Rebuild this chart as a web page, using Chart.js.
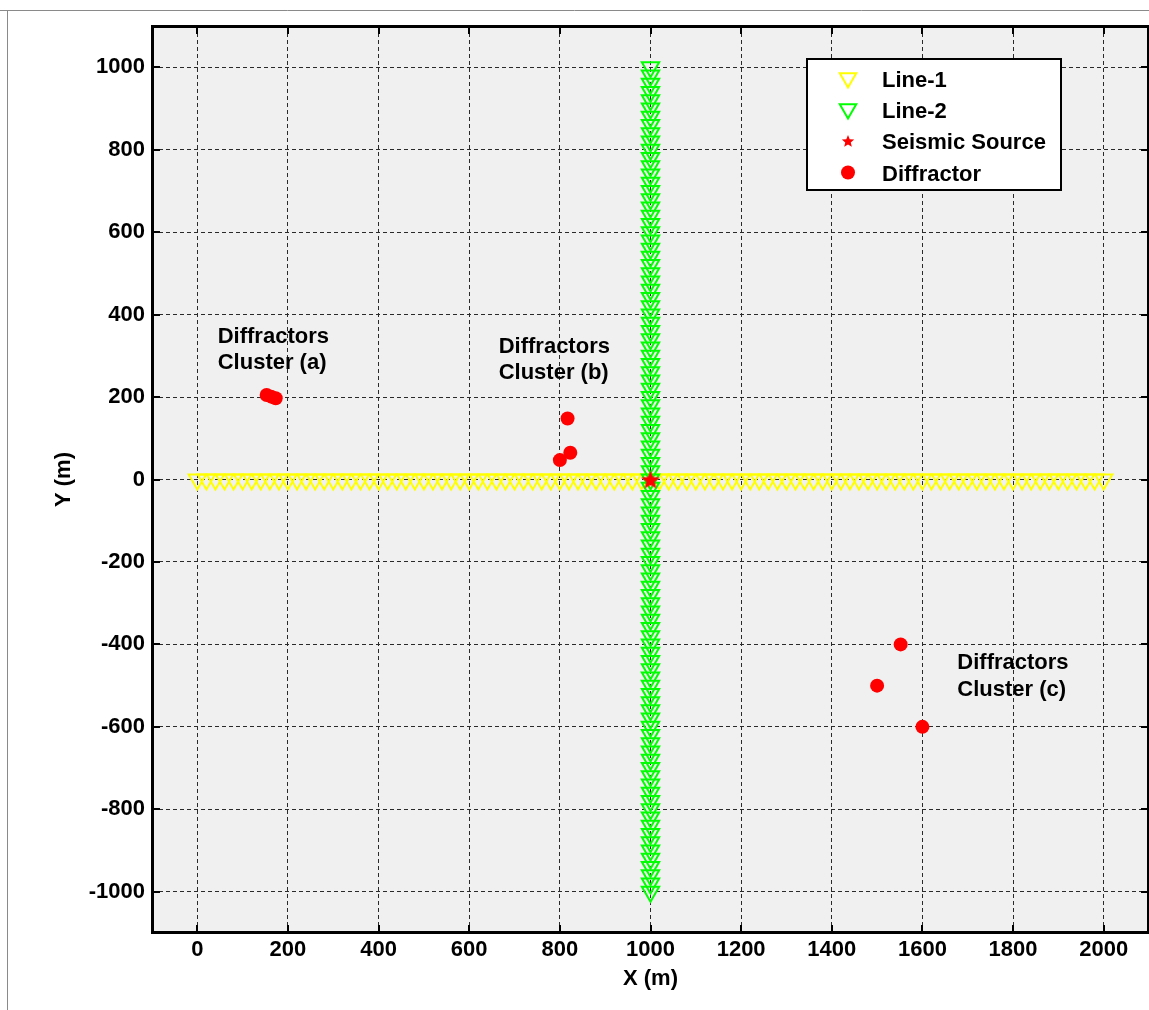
<!DOCTYPE html>
<html>
<head>
<meta charset="utf-8">
<title>Survey geometry</title>
<script src="https://cdn.jsdelivr.net/npm/chart.js@4.4.1/dist/chart.umd.min.js"></script>
<style>
  html, body { margin: 0; padding: 0; background: #fff; }
  canvas { display: block; }
</style>
</head>
<body>
<canvas id="survey" width="1149" height="1010"></canvas>
<script>
"use strict";

// Axis ticks
var xTicks = [0, 200, 400, 600, 800, 1000, 1200, 1400, 1600, 1800, 2000];
var yTicks = [-1000, -800, -600, -400, -200, 0, 200, 400, 600, 800, 1000];

var seriesNames = ['Line-1', 'Line-2', 'Seismic Source', 'Diffractor'];

// Receiver line 1 (along X)
var line1X = [
    0, 20, 40, 60, 80, 100, 120, 140, 160, 180,
    200, 220, 240, 260, 280, 300, 320, 340, 360, 380,
    400, 420, 440, 460, 480, 500, 520, 540, 560, 580,
    600, 620, 640, 660, 680, 700, 720, 740, 760, 780,
    800, 820, 840, 860, 880, 900, 920, 940, 960, 980,
    1000, 1020, 1040, 1060, 1080, 1100, 1120, 1140, 1160, 1180,
    1200, 1220, 1240, 1260, 1280, 1300, 1320, 1340, 1360, 1380,
    1400, 1420, 1440, 1460, 1480, 1500, 1520, 1540, 1560, 1580,
    1600, 1620, 1640, 1660, 1680, 1700, 1720, 1740, 1760, 1780,
    1800, 1820, 1840, 1860, 1880, 1900, 1920, 1940, 1960, 1980,
    2000
];
var line1Y = [
    0, 0, 0, 0, 0, 0, 0, 0, 0, 0,
    0, 0, 0, 0, 0, 0, 0, 0, 0, 0,
    0, 0, 0, 0, 0, 0, 0, 0, 0, 0,
    0, 0, 0, 0, 0, 0, 0, 0, 0, 0,
    0, 0, 0, 0, 0, 0, 0, 0, 0, 0,
    0, 0, 0, 0, 0, 0, 0, 0, 0, 0,
    0, 0, 0, 0, 0, 0, 0, 0, 0, 0,
    0, 0, 0, 0, 0, 0, 0, 0, 0, 0,
    0, 0, 0, 0, 0, 0, 0, 0, 0, 0,
    0, 0, 0, 0, 0, 0, 0, 0, 0, 0,
    0
];

// Receiver line 2 (along Y)
var line2X = [
    1000, 1000, 1000, 1000, 1000, 1000, 1000, 1000, 1000, 1000,
    1000, 1000, 1000, 1000, 1000, 1000, 1000, 1000, 1000, 1000,
    1000, 1000, 1000, 1000, 1000, 1000, 1000, 1000, 1000, 1000,
    1000, 1000, 1000, 1000, 1000, 1000, 1000, 1000, 1000, 1000,
    1000, 1000, 1000, 1000, 1000, 1000, 1000, 1000, 1000, 1000,
    1000, 1000, 1000, 1000, 1000, 1000, 1000, 1000, 1000, 1000,
    1000, 1000, 1000, 1000, 1000, 1000, 1000, 1000, 1000, 1000,
    1000, 1000, 1000, 1000, 1000, 1000, 1000, 1000, 1000, 1000,
    1000, 1000, 1000, 1000, 1000, 1000, 1000, 1000, 1000, 1000,
    1000, 1000, 1000, 1000, 1000, 1000, 1000, 1000, 1000, 1000,
    1000
];
var line2Y = [
    -1000, -980, -960, -940, -920, -900, -880, -860, -840, -820,
    -800, -780, -760, -740, -720, -700, -680, -660, -640, -620,
    -600, -580, -560, -540, -520, -500, -480, -460, -440, -420,
    -400, -380, -360, -340, -320, -300, -280, -260, -240, -220,
    -200, -180, -160, -140, -120, -100, -80, -60, -40, -20,
    0, 20, 40, 60, 80, 100, 120, 140, 160, 180,
    200, 220, 240, 260, 280, 300, 320, 340, 360, 380,
    400, 420, 440, 460, 480, 500, 520, 540, 560, 580,
    600, 620, 640, 660, 680, 700, 720, 740, 760, 780,
    800, 820, 840, 860, 880, 900, 920, 940, 960, 980,
    1000
];

// Shot point
var sourceX = [1000];
var sourceY = [0];

// Diffractor clusters (a), (b), (c)
var diffX = [153, 163, 173, 800, 817, 823, 1500, 1552, 1600];
var diffY = [205, 201, 197, 47, 148, 65, -500, -400, -600];

// Cluster captions, anchored in data units (left edge, first baseline)
var clusterNotes = [
    { lines: ['Diffractors', 'Cluster (a)'], x: 45, y: 332 },
    { lines: ['Diffractors', 'Cluster (b)'], x: 665, y: 308 },
    { lines: ['Diffractors', 'Cluster (c)'], x: 1677, y: -460 }
];

var FONT = '"Liberation Sans", Arial, Helvetica, sans-serif';
var YELLOW = '#ffff00';
var GREEN = '#00ff00';
var RED = '#ff0000';

function toPoints(xs, ys) {
    return xs.map(function (x, i) { return { x: x, y: ys[i] }; });
}

function starPath(ctx, cx, cy, R, r) {
    ctx.beginPath();
    for (var k = 0; k < 10; k++) {
        var rad = k % 2 ? r : R;
        var a = -Math.PI / 2 + k * Math.PI / 5;
        ctx.lineTo(cx + rad * Math.cos(a), cy + rad * Math.sin(a));
    }
    ctx.closePath();
}

function downTriangle(ctx, cx, cy, R) {
    // same geometry as Chart.js 'triangle' rotated 180
    ctx.beginPath();
    ctx.moveTo(cx, cy + R);
    ctx.lineTo(cx - R * Math.sin(Math.PI / 3), cy - R / 2);
    ctx.lineTo(cx + R * Math.sin(Math.PI / 3), cy - R / 2);
    ctx.closePath();
}

// filled pentagram used as the source marker
var starImg = document.createElement('canvas');
starImg.width = 24;
starImg.height = 24;
(function () {
    var c = starImg.getContext('2d');
    c.fillStyle = RED;
    starPath(c, 12, 13, 10, 4.4);
    c.fill();
})();

// Background, frame, inward ticks, captions, axis titles and legend
var axesDecor = {
    id: 'axesDecor',
    beforeDraw: function (chart) {
        var ctx = chart.ctx, a = chart.chartArea;
        ctx.save();
        ctx.fillStyle = '#fff';
        ctx.fillRect(0, 0, chart.width, chart.height);
        ctx.strokeStyle = '#8a8a8a';
        ctx.lineWidth = 1;
        ctx.beginPath();
        ctx.moveTo(0, 10.5); ctx.lineTo(chart.width, 10.5);
        ctx.moveTo(7.5, 10); ctx.lineTo(7.5, chart.height);
        ctx.stroke();
        ctx.fillStyle = '#f0f0f0';
        ctx.fillRect(a.left, a.top, a.right - a.left, a.bottom - a.top);
        ctx.restore();
    },
    afterDraw: function (chart) {
        var ctx = chart.ctx, a = chart.chartArea;
        var sx = chart.scales.x, sy = chart.scales.y;
        ctx.save();

        // inward tick marks
        ctx.strokeStyle = '#000';
        ctx.lineWidth = 2;
        ctx.beginPath();
        xTicks.forEach(function (v) {
            var px = Math.round(sx.getPixelForValue(v));
            ctx.moveTo(px, a.bottom); ctx.lineTo(px, a.bottom - 8);
            ctx.moveTo(px, a.top); ctx.lineTo(px, a.top + 8);
        });
        yTicks.forEach(function (v) {
            var py = Math.round(sy.getPixelForValue(v));
            ctx.moveTo(a.left, py); ctx.lineTo(a.left + 8, py);
            ctx.moveTo(a.right, py); ctx.lineTo(a.right - 8, py);
        });
        ctx.stroke();

        // axes box
        ctx.lineWidth = 3;
        ctx.strokeRect(a.left + 0.5, a.top + 0.5, a.right - a.left - 1, a.bottom - a.top - 1);

        // captions
        ctx.fillStyle = '#000';
        ctx.font = 'bold 22px ' + FONT;
        ctx.textAlign = 'left';
        ctx.textBaseline = 'alphabetic';
        clusterNotes.forEach(function (n) {
            var px = sx.getPixelForValue(n.x);
            var py = sy.getPixelForValue(n.y);
            n.lines.forEach(function (t, i) {
                ctx.fillText(t, px, py + i * 26.5);
            });
        });

        // axis titles
        ctx.textAlign = 'center';
        ctx.textBaseline = 'middle';
        ctx.fillText('X (m)', (a.left + a.right) / 2, 979);
        ctx.save();
        ctx.translate(64, (a.top + a.bottom) / 2);
        ctx.rotate(-Math.PI / 2);
        ctx.fillText('Y (m)', 0, 0);
        ctx.restore();

        // legend box
        var lx = 807, ly = 59, lw = 254, lh = 131;
        ctx.fillStyle = '#fff';
        ctx.fillRect(lx, ly, lw, lh);
        ctx.strokeStyle = '#000';
        ctx.lineWidth = 2;
        ctx.strokeRect(lx, ly, lw, lh);

        var mx = 848, tx = 882;
        var rows = [79, 110, 141, 172.5];

        ctx.lineWidth = 2;
        ctx.strokeStyle = YELLOW;
        downTriangle(ctx, mx, rows[0] - 1, 9.5);
        ctx.stroke();
        ctx.strokeStyle = GREEN;
        downTriangle(ctx, mx, rows[1] - 1, 9.5);
        ctx.stroke();
        ctx.fillStyle = RED;
        starPath(ctx, mx, rows[2] + 0.5, 6.5, 2.9);
        ctx.fill();
        ctx.beginPath();
        ctx.arc(mx, rows[3], 7, 0, Math.PI * 2);
        ctx.fill();

        ctx.fillStyle = '#000';
        ctx.textAlign = 'left';
        ctx.textBaseline = 'alphabetic';
        seriesNames.forEach(function (name, i) {
            ctx.fillText(name, tx, rows[i] + 8);
        });

        ctx.restore();
    }
};

Chart.defaults.font.family = FONT;
Chart.defaults.font.size = 22;
Chart.defaults.font.weight = 'bold';
Chart.defaults.color = '#000';

var tickFont = { family: FONT, size: 22, weight: 'bold' };

var config = {
    type: 'scatter',
    data: {
        datasets: [{
            label: seriesNames[0],
            data: toPoints(line1X, line1Y),
            pointStyle: 'triangle',
            pointRotation: 180,
            pointRadius: 10,
            pointBorderWidth: 2,
            borderColor: YELLOW,
            backgroundColor: 'rgba(0,0,0,0)',
            order: 4
        }, {
            label: seriesNames[1],
            data: toPoints(line2X, line2Y),
            pointStyle: 'triangle',
            pointRotation: 180,
            pointRadius: 10,
            pointBorderWidth: 2,
            borderColor: GREEN,
            backgroundColor: 'rgba(0,0,0,0)',
            order: 3
        }, {
            label: seriesNames[2],
            data: toPoints(sourceX, sourceY),
            pointStyle: starImg,
            pointRadius: 12,
            order: 1
        }, {
            label: seriesNames[3],
            data: toPoints(diffX, diffY),
            pointStyle: 'circle',
            pointRadius: 7,
            pointBorderWidth: 0,
            borderColor: RED,
            backgroundColor: RED,
            order: 2
        }]
    },
    options: {
        responsive: false,
        animation: false,
        events: [],
        layout: {
            autoPadding: false, // keep the plot box flush with the canvas edge
            padding: { top: 26, left: 0, right: 0, bottom: 0 }
        },
        plugins: {
            legend: { display: false },
            tooltip: { enabled: false }
        },
        scales: {
            x: {
                type: 'linear',
                min: -100,
                max: 2100,
                afterBuildTicks: function (scale) {
                    scale.ticks = xTicks.map(function (v) { return { value: v }; });
                },
                afterFit: function (scale) {
                    scale.height = 77;
                    scale.paddingLeft = 0;
                    scale.paddingRight = 0;
                },
                grid: { color: '#2a2a2a', lineWidth: 1, drawTicks: false },
                border: { display: false, dash: [4, 3] },
                ticks: {
                    padding: 4,
                    color: '#000',
                    font: tickFont,
                    maxRotation: 0,
                    autoSkip: false,
                    callback: function (v) { return String(v); }
                }
            },
            y: {
                type: 'linear',
                min: -1100,
                max: 1100,
                afterBuildTicks: function (scale) {
                    scale.ticks = yTicks.map(function (v) { return { value: v }; });
                },
                afterFit: function (scale) {
                    scale.width = 152;
                    scale.paddingTop = 0;
                    scale.paddingBottom = 0;
                },
                grid: { color: '#2a2a2a', lineWidth: 1, drawTicks: false },
                border: { display: false, dash: [4, 3] },
                ticks: {
                    padding: 7,
                    color: '#000',
                    font: tickFont,
                    autoSkip: false,
                    callback: function (v) { return String(v); }
                }
            }
        }
    },
    plugins: [axesDecor]
};

new Chart(document.getElementById('survey').getContext('2d'), config);
</script>
</body>
</html>
